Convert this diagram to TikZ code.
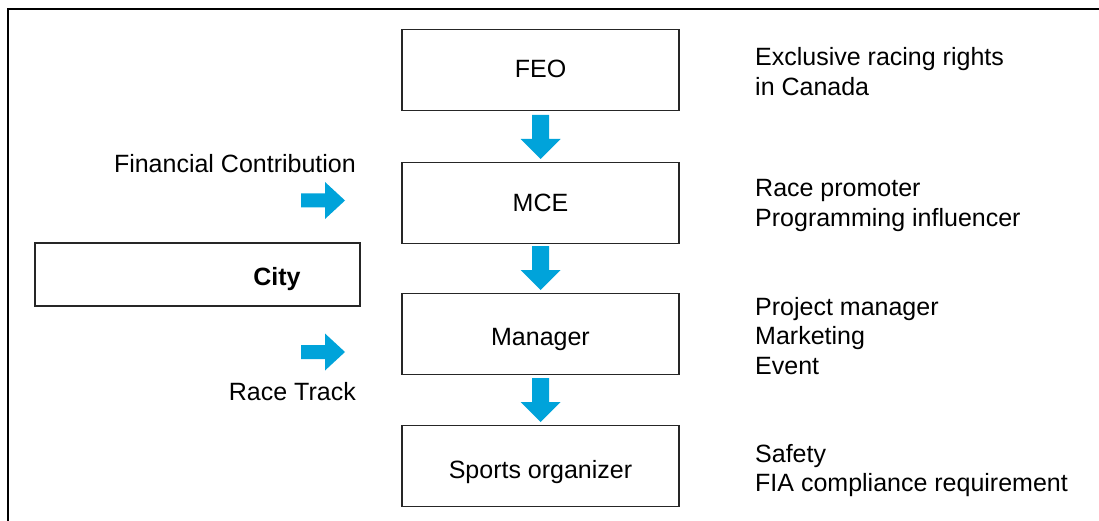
\documentclass[tikz,border=0pt]{standalone}
\usepackage{fontspec}
\setmainfont{Liberation Sans}
\newcommand{\labelfont}{\fontsize{25}{29.3}\selectfont}
\begin{document}
\begin{tikzpicture}[x=1pt,y=-1pt,
  stagebox/.style={draw=black!85,line width=1.3pt,minimum width=277pt,minimum height=81pt,inner sep=0pt,text height=16pt,text depth=0pt},
  note/.style={anchor=west,align=left,inner sep=0pt,font=\labelfont},
  side/.style={anchor=east,inner sep=0pt,font=\labelfont},
  pics/downarrow/.style={code={\fill[flowblue] (-8.5,0) -- (8.5,0) -- (8.5,24) -- (20,24) -- (0,44) -- (-20,24) -- (-8.5,24) -- cycle;}},
  pics/rightarrow/.style={code={\fill[flowblue] (0,-7) -- (24,-7) -- (24,-18.5) -- (44,0) -- (24,18.5) -- (24,7) -- (0,7) -- cycle;}},
  every node/.style={font=\labelfont}]
\definecolor{flowblue}{RGB}{0,163,218}
\useasboundingbox (0,0) rectangle (1099,521);
% outer frame: top and left edges
\draw[line width=2.2pt,line cap=rect] (8,521) -- (8,9) -- (1099,9);

% main chain
\node[stagebox] (feo) at (540.5,70) {FEO};
\node[stagebox,text height=18pt] (mce) at (540.5,203) {MCE};
\node[stagebox,text height=22pt] (mgr) at (540.5,334) {Manager};
\node[stagebox,text height=24pt] (spo) at (540.5,466) {Sports organizer};

% side box
\node[draw=black!85,line width=1.3pt,minimum width=325pt,minimum height=63pt,inner sep=0pt] (city) at (197.5,274.5) {};
\node[font=\labelfont\bfseries,inner sep=0pt,text height=16pt,text depth=0pt] (citylbl) at (277,277) {City};

% flow arrows
\pic at (540.5,115) {downarrow};
\pic at (540.5,246) {downarrow};
\pic at (540.5,378) {downarrow};
\pic at (301,200.5) {rightarrow};
\pic at (301,352) {rightarrow};

% inputs
\node[side] (fin) at (356,164) {Financial Contribution};
\node[side] (track) at (356,392) {Race Track};

% roles
\node[note] (r1) at (755,71.5) {Exclusive racing rights\\in Canada};
\node[note] (r2) at (755,205.5) {Race promoter\\Programming influencer};
\node[note] (r3) at (755,336) {Project manager\\Marketing\\Event};
\node[note] (r4) at (755,470.5) {Safety\\FIA compliance requirement};
\end{tikzpicture}
\end{document}
